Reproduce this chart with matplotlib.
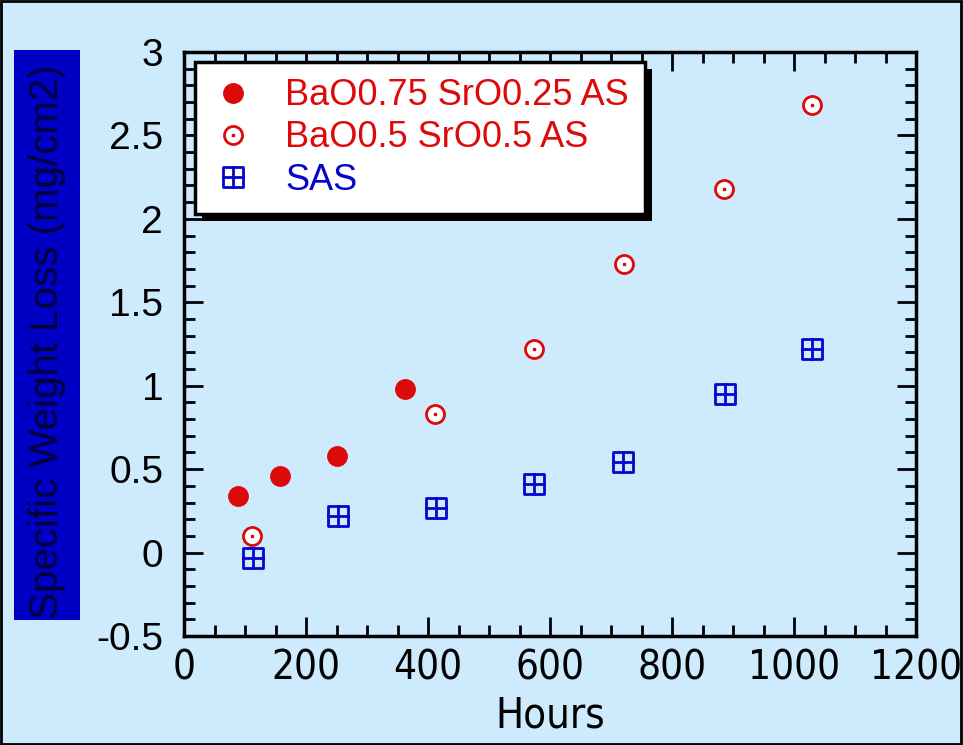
import matplotlib
matplotlib.use('Agg')
import matplotlib.pyplot as plt
from matplotlib.path import Path
from matplotlib.patches import Rectangle
from matplotlib.ticker import MultipleLocator
from matplotlib.legend_handler import HandlerTuple

# data
hours_a = [88, 157, 251, 362]
loss_a = [0.34, 0.46, 0.58, 0.98]

hours_b = [111, 411, 574, 721, 885, 1029]
loss_b = [0.10, 0.83, 1.22, 1.73, 2.18, 2.68]

hours_sas = [113, 252, 413, 574, 720, 887, 1030]
loss_sas = [-0.03, 0.22, 0.27, 0.41, 0.545, 0.95, 1.22]

labels = ['BaO0.75 SrO0.25 AS', 'BaO0.5 SrO0.5 AS', 'SAS']

bg = '#cdebfd'
red = '#dd0a0a'
blue = '#0505cc'

plt.rcParams.update({
    'font.family': 'Liberation Sans',
    'xtick.direction': 'in',
    'ytick.direction': 'in',
})

# square with a cross inside
verts = [(-1, -1), (1, -1), (1, 1), (-1, 1), (-1, -1),
         (-1.1, 0), (1.1, 0), (0, -1.15), (0, 1.15)]
codes = [Path.MOVETO, Path.LINETO, Path.LINETO, Path.LINETO, Path.CLOSEPOLY,
         Path.MOVETO, Path.LINETO, Path.MOVETO, Path.LINETO]
grid_marker = Path(verts, codes)

fig = plt.figure(figsize=(9.63, 7.45), dpi=100, facecolor=bg)
ax = fig.add_axes([0.1911, 0.1463, 0.7601, 0.7839])
ax.set_facecolor(bg)

h1, = ax.plot(hours_a, loss_a, 'o', color=red, markersize=14, linestyle='none')
h2, = ax.plot(hours_b, loss_b, 'o', markerfacecolor='white', markeredgecolor=red,
              markeredgewidth=2, markersize=13, linestyle='none')
h2d, = ax.plot(hours_b, loss_b, 's', color=red, markersize=1.6, linestyle='none')
h3, = ax.plot(hours_sas, loss_sas, marker=grid_marker, markerfacecolor='none',
              markeredgecolor=blue, markeredgewidth=2, markersize=16, linestyle='none')

ax.set_xlim(0, 1200)
ax.set_ylim(-0.5, 3)
ax.xaxis.set_major_locator(MultipleLocator(200))
ax.xaxis.set_minor_locator(MultipleLocator(50))
ax.yaxis.set_minor_locator(MultipleLocator(0.1))
ax.set_yticks([-0.5, 0, 0.5, 1, 1.5, 2, 2.5, 3])
ax.set_yticklabels(['-0.5', '0', '0.5', '1', '1.5', '2', '2.5', '3'])
ax.tick_params(which='both', top=True, right=True, width=2)
ax.tick_params(which='major', length=14)
ax.tick_params(which='minor', length=8)
ax.tick_params(axis='y', labelsize=28, pad=15)
ax.tick_params(axis='x', labelsize=29, pad=9)
for lab in ax.get_xticklabels():
    lab.set_family('DejaVu Sans')
    lab.set_stretch('condensed')
for s in ax.spines.values():
    s.set_linewidth(2.5)

ax.set_xlabel('Hours', fontsize=30, family='DejaVu Sans', stretch='condensed',
              labelpad=4)

# y label in a dark blue box
fig.patches.append(Rectangle((14 / 963, 1 - 620 / 745), 66 / 963, 570 / 745,
                             transform=fig.transFigure, facecolor='#0000c4',
                             edgecolor='none', zorder=0))
fig.text(47 / 963, 1 - 342 / 745, 'Specific Weight Loss (mg/cm2)', rotation=90,
         ha='center', va='center', fontsize=29, color='#00003c')

# figure border
fig.patches.append(Rectangle((0.001, 0.001), 0.997, 0.997, transform=fig.transFigure,
                             facecolor='none', edgecolor='black', linewidth=2, zorder=5))

leg = ax.legend([h1, (h2, h2d), h3], labels, loc='upper left',
                bbox_to_anchor=(11 / 732, 1 - 10 / 584), fontsize=26,
                frameon=True, fancybox=False, edgecolor='black', framealpha=1,
                handlelength=1.2, handletextpad=0.85, labelspacing=0.2,
                borderpad=0.45, borderaxespad=0,
                handler_map={tuple: HandlerTuple(ndivide=1)})
leg.get_frame().set_linewidth(2.5)
for t, c in zip(leg.get_texts(), [red, red, blue]):
    t.set_color(c)

# black drop shadow behind legend
fig.canvas.draw()
bb = leg.get_window_extent()
shadow = Rectangle((bb.x0 + 7, bb.y0 - 7), bb.width, bb.height, transform=None,
                   facecolor='black', edgecolor='none', zorder=4)
ax.add_artist(shadow)
leg.set_zorder(5)

fig.savefig('out.png', dpi=100, facecolor=bg)
